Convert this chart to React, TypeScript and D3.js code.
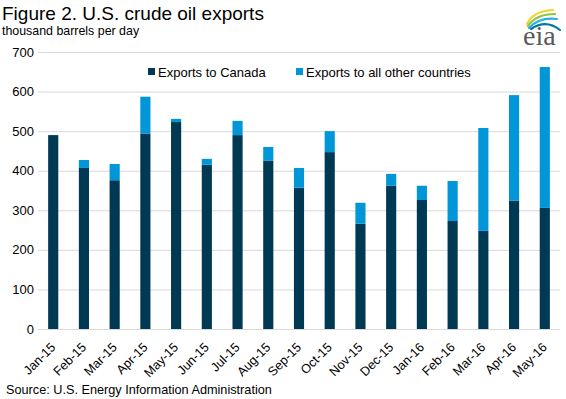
import React, { useEffect, useRef } from 'react';
import * as d3 from 'd3';

// thousand barrels per day
const months = [
  'Jan-15', 'Feb-15', 'Mar-15', 'Apr-15', 'May-15', 'Jun-15', 'Jul-15', 'Aug-15', 'Sep-15',
  'Oct-15', 'Nov-15', 'Dec-15', 'Jan-16', 'Feb-16', 'Mar-16', 'Apr-16', 'May-16',
];
const canada = [490, 407, 376, 494, 523, 415, 490, 425, 357, 447, 266, 362, 326, 273, 248, 324, 306];
const others = [0, 20, 41, 93, 8, 15, 36, 35, 50, 53, 53, 30, 36, 101, 260, 267, 356];
const yTicks = [0, 100, 200, 300, 400, 500, 600, 700];
const seriesNames = ['Exports to Canada', 'Exports to all other countries'];
const colors = ['#003953', '#0096d7'];

const W = 566;
const H = 399;
const FONT = 'Liberation Sans, Arial, sans-serif';

const App: React.FC = () => {
  const ref = useRef<SVGSVGElement>(null);

  useEffect(() => {
    if (!ref.current) return;
    const svg = d3.select(ref.current);
    svg.selectAll('*').remove();

    const margin = { top: 52, right: 6, bottom: 70, left: 38 };
    const width = W - margin.left - margin.right;
    const height = H - margin.top - margin.bottom;

    // titles
    svg.append('text').attr('x', 2).attr('y', 20).attr('font-size', 19)
      .attr('fill', '#000').text('Figure 2. U.S. crude oil exports');
    svg.append('text').attr('x', 2).attr('y', 35).attr('font-size', 12.4)
      .attr('fill', '#000').text('thousand barrels per day');
    svg.append('text').attr('x', 6).attr('y', 394).attr('font-size', 12.7)
      .attr('fill', '#000').text('Source: U.S. Energy Information Administration');

    // eia logo
    const logo = svg.append('g');
    const arcs = [
      { c: '#f4d22a', d: 'M527,24 Q533,11 553,10' },
      { c: '#8cc540', d: 'M528,26 Q536,14 555,14' },
      { c: '#2ab0e4', d: 'M529,28 Q539,17 557,19' },
      { c: '#00799e', d: 'M531,29 Q546,19 560,30' },
    ];
    arcs.forEach((a) => {
      logo.append('path').attr('d', a.d).attr('fill', 'none')
        .attr('stroke', a.c).attr('stroke-width', 2.2).attr('stroke-linecap', 'round');
    });
    logo.append('text').attr('x', 523).attr('y', 45).attr('font-family', 'Liberation Serif, serif')
      .attr('font-size', 28).attr('fill', '#595959').text('eia');

    const g = svg.append('g').attr('transform', `translate(${margin.left},${margin.top})`);

    const x = d3.scaleBand().domain(months).range([0, width]).paddingInner(0.67).paddingOuter(0.33);
    const y = d3.scaleLinear().domain([0, 700]).range([height, 0]);

    // y grid + labels
    g.selectAll('line.grid').data(yTicks).enter().append('line')
      .attr('x1', 0).attr('x2', width)
      .attr('y1', (d) => y(d) + 0.5).attr('y2', (d) => y(d) + 0.5)
      .attr('stroke', '#d9d9d9').attr('stroke-width', 1);
    g.selectAll('text.ylab').data(yTicks).enter().append('text')
      .attr('x', -4).attr('y', (d) => y(d)).attr('dy', '0.35em')
      .attr('text-anchor', 'end').attr('font-size', 13).attr('fill', '#000')
      .text((d) => d);

    const stacked = d3.stack<number>().keys(['canada', 'others'])
      .value((i, key) => (key === 'canada' ? canada[i] : others[i]))(months.map((_, i) => i));

    stacked.forEach((layer, li) => {
      g.selectAll(`rect.s${li}`).data(layer).enter().append('rect')
        .attr('x', (d) => x(months[d.data])!)
        .attr('width', x.bandwidth())
        .attr('y', (d) => y(d[1]))
        .attr('height', (d) => y(d[0]) - y(d[1]))
        .attr('fill', colors[li]);
    });

    // x labels, rotated
    g.selectAll('text.xlab').data(months).enter().append('text')
      .attr('transform', (d) => `translate(${x(d)! + x.bandwidth() / 2 + 3},${height + 19}) rotate(-45)`)
      .attr('text-anchor', 'end').attr('font-size', 12.7).attr('fill', '#000')
      .text((d) => d);

    // legend
    const legend = svg.append('g').attr('transform', 'translate(0,72)');
    const lx = [148, 296];
    seriesNames.forEach((n, i) => {
      legend.append('rect').attr('x', lx[i]).attr('y', -4).attr('width', 7).attr('height', 7)
        .attr('fill', colors[i]);
      legend.append('text').attr('x', lx[i] + 10).attr('y', 0).attr('dy', '0.35em')
        .attr('font-size', 13).attr('fill', '#000').text(n);
    });
  }, []);

  return (
    <svg ref={ref} width={W} height={H} style={{ position: 'absolute', left: 0, top: 0, fontFamily: FONT, background: '#fff' }} />
  );
};

export default App;
